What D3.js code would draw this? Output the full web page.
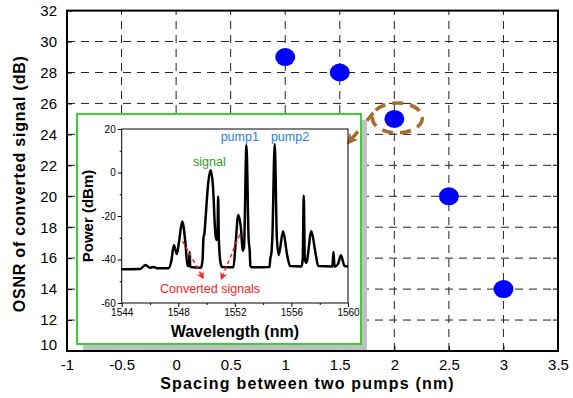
<!DOCTYPE html>
<html>
<head>
<meta charset="utf-8">
<script src="https://cdn.jsdelivr.net/npm/d3@7"></script>
<style>
  body { margin: 0; background: #fff; }
  svg { display: block; font-family: Arial, "Liberation Sans", sans-serif; }
</style>
</head>
<body>
<div id="chart"></div>
<script>
// main chart data
const spacing = [1, 1.5, 2, 2.5, 3];
const osnr = [29, 28, 25, 20, 14];
const xTicks = [-1, -0.5, 0, 0.5, 1, 1.5, 2, 2.5, 3, 3.5];
const yTicks = [10, 12, 14, 16, 18, 20, 22, 24, 26, 28, 30, 32];

// inset spectrum
const wavelength = [1544, 1545.3, 1545.67, 1546.0, 1546.24, 1546.5, 1547.3, 1547.5, 1547.69, 1547.9,
  1548.05, 1548.28, 1548.5, 1548.65, 1548.75, 1548.8, 1548.85, 1549.6, 1549.72, 1549.78,
  1549.85, 1549.92, 1550.1, 1550.28, 1550.45, 1550.62, 1550.7, 1550.77, 1550.82, 1550.87,
  1551.0, 1551.1, 1551.9, 1552.05, 1552.24, 1552.45, 1552.55, 1552.65, 1552.82, 1552.97,
  1553.05, 1553.1, 1553.2, 1554.45, 1554.5, 1554.6, 1554.65, 1554.82, 1554.97, 1555.1,
  1555.41, 1555.7, 1555.9, 1556.7, 1556.8, 1556.87, 1556.95, 1557.05, 1557.41, 1557.7,
  1557.9, 1558.9, 1558.97, 1559.05, 1559.3, 1559.5, 1559.75, 1560];
const power = [-44.5, -44.4, -42.5, -43.8, -43.5, -44, -44, -41, -33.5, -37.5,
  -32, -22.5, -32, -43, -43, -36.5, -43.5, -43.8, -40, -30,
  -28, -22, -6, 1, -6, -28, -31, -30, -11, -31,
  -42, -43.5, -43.6, -33, -19.5, -27, -36, -34, 12.5, -30,
  -36, -43, -43.6, -43.5, -40, -36, -30, 13, -30, -38,
  -27, -38, -43, -43.2, -40, -10.6, -40, -41.5, -27, -37,
  -43, -43.2, -36.5, -43.3, -42, -38, -43, -43.2];
const wlTicks = [1544, 1548, 1552, 1556, 1560];
const pwTicks = [20, 0, -20, -40, -60];

const width = 573, height = 398;
const margin = { top: 10.6, right: 15, bottom: 47, left: 67 };
const hyphen = d => String(d);

const svg = d3.select('#chart').append('svg')
  .attr('width', width)
  .attr('height', height);
const defs = svg.append('defs');

const x = d3.scaleLinear().domain([-1, 3.5]).range([margin.left, width - margin.right]);
const y = d3.scaleLinear().domain([10, 32]).range([height - margin.bottom, margin.top]);

// grid
svg.append('g').selectAll('line')
  .data(yTicks.slice(1, -1))
  .join('line')
  .attr('x1', x(-1)).attr('x2', x(3.5))
  .attr('y1', d => y(d)).attr('y2', d => y(d))
  .attr('stroke', '#222').attr('stroke-width', 1)
  .attr('stroke-dasharray', '8,6');
svg.append('g').selectAll('line')
  .data(xTicks.slice(1, -1))
  .join('line')
  .attr('x1', d => x(d)).attr('x2', d => x(d))
  .attr('y1', y(10)).attr('y2', y(32))
  .attr('stroke', '#222').attr('stroke-width', 1)
  .attr('stroke-dasharray', '8,6');

// frame and axes
svg.append('rect')
  .attr('x', x(-1)).attr('y', y(32))
  .attr('width', x(3.5) - x(-1)).attr('height', y(10) - y(32))
  .attr('fill', 'none').attr('stroke', '#000').attr('stroke-width', 2);

const xAxis = svg.append('g')
  .attr('transform', `translate(0,${y(10)})`)
  .call(d3.axisBottom(x).tickValues(xTicks).tickSize(-5).tickPadding(8).tickFormat(hyphen));
xAxis.select('.domain').remove();
xAxis.selectAll('text').attr('font-size', 15).attr('fill', '#000')
  .attr('font-family', 'Arial, "Liberation Sans", sans-serif');

const yAxis = svg.append('g')
  .attr('transform', `translate(${x(-1)},0)`)
  .call(d3.axisLeft(y).tickValues(yTicks).tickSize(-5).tickPadding(10).tickFormat(hyphen));
yAxis.select('.domain').remove();
yAxis.selectAll('text').attr('font-size', 15).attr('fill', '#000')
  .attr('font-family', 'Arial, "Liberation Sans", sans-serif');
yAxis.selectAll('.tick').filter(d => d === 10).select('text').attr('dy', '-0.1em');

// right side ticks
svg.append('g').selectAll('line')
  .data(yTicks)
  .join('line')
  .attr('x1', x(3.5) - 5).attr('x2', x(3.5))
  .attr('y1', d => y(d)).attr('y2', d => y(d))
  .attr('stroke', '#000');

svg.append('text')
  .attr('x', (x(-1) + x(3.5)) / 2 - 5)
  .attr('y', 389)
  .attr('text-anchor', 'middle')
  .attr('font-size', 16).attr('font-weight', 700)
  .attr('letter-spacing', 1.2)
  .text('Spacing between two pumps (nm)');

svg.append('text')
  .attr('transform', `translate(25,${(y(10) + y(32)) / 2 + 3}) rotate(-90)`)
  .attr('text-anchor', 'middle')
  .attr('font-size', 16).attr('font-weight', 700)
  .attr('letter-spacing', 0.8)
  .text('OSNR of converted signal (dB)');

// data points
svg.append('g').selectAll('ellipse')
  .data(spacing)
  .join('ellipse')
  .attr('cx', d => x(d))
  .attr('cy', (d, i) => y(osnr[i]))
  .attr('rx', 10).attr('ry', 9)
  .attr('fill', '#0000ff');

// highlight ellipse
const brown = '#a86b2d';
const hx = x(2) + 3, hy = y(25) - 1;
svg.append('ellipse')
  .attr('cx', hx).attr('cy', hy)
  .attr('rx', 25).attr('ry', 15)
  .attr('fill', 'none').attr('stroke', brown)
  .attr('stroke-width', 3.5).attr('stroke-dasharray', '11,7');

// inset
const inset = { x: 77, y: 114, w: 284, h: 230 };
svg.append('rect')
  .attr('x', inset.x + 6).attr('y', inset.y + 6)
  .attr('width', inset.w).attr('height', inset.h)
  .attr('fill', '#c0c0c0');
svg.append('rect')
  .attr('x', inset.x).attr('y', inset.y)
  .attr('width', inset.w).attr('height', inset.h)
  .attr('fill', '#fff').attr('stroke', '#3ccf3c').attr('stroke-width', 2);

// arrow from the highlight to the inset
defs.append('marker')
  .attr('id', 'brownHead')
  .attr('viewBox', '0 0 10 10').attr('refX', 8).attr('refY', 5)
  .attr('markerWidth', 3.2).attr('markerHeight', 3.2)
  .attr('orient', 'auto')
  .append('path').attr('d', 'M0,0 L10,5 L0,10 L3,5 Z').attr('fill', brown);

svg.append('line')
  .attr('x1', hx - 24).attr('y1', hy - 5)
  .attr('x2', hx - 49).attr('y2', hy + 25)
  .attr('stroke', brown).attr('stroke-width', 3.5)
  .attr('stroke-dasharray', '10,14')
  .attr('marker-end', 'url(#brownHead)');

const ix = d3.scaleLinear().domain([1544, 1560]).range([121.7, 348]);
const iy = d3.scaleLinear().domain([-60, 20]).range([303, 129]);
const g = svg.append('g');

g.append('rect')
  .attr('x', ix(1544)).attr('y', iy(20))
  .attr('width', ix(1560) - ix(1544)).attr('height', iy(-60) - iy(20))
  .attr('fill', 'none').attr('stroke', '#000').attr('stroke-width', 1);

const ixAxis = g.append('g')
  .attr('transform', `translate(0,${iy(-60)})`)
  .call(d3.axisBottom(ix).tickValues(wlTicks).tickSize(4).tickPadding(2).tickFormat(d3.format('d')));
ixAxis.select('.domain').remove();
ixAxis.selectAll('text').attr('font-size', 10).attr('fill', '#000')
  .attr('font-family', 'Arial, "Liberation Sans", sans-serif');
g.append('g')
  .attr('transform', `translate(0,${iy(-60)})`)
  .call(d3.axisBottom(ix).tickValues([1546, 1550, 1554, 1558]).tickSize(2).tickFormat(''))
  .select('.domain').remove();

const iyAxis = g.append('g')
  .attr('transform', `translate(${ix(1544)},0)`)
  .call(d3.axisLeft(iy).tickValues(pwTicks).tickSize(4).tickPadding(2).tickFormat(hyphen));
iyAxis.select('.domain').remove();
iyAxis.selectAll('text').attr('font-size', 10).attr('fill', '#000')
  .attr('font-family', 'Arial, "Liberation Sans", sans-serif');
g.append('g')
  .attr('transform', `translate(${ix(1544)},0)`)
  .call(d3.axisLeft(iy).tickValues([10, -10, -30, -50]).tickSize(2).tickFormat(''))
  .select('.domain').remove();

const line = d3.line()
  .x((d, i) => ix(wavelength[i]))
  .y(d => iy(d))
  .curve(d3.curveMonotoneX);
g.append('path')
  .datum(power)
  .attr('d', line)
  .attr('fill', 'none').attr('stroke', '#000')
  .attr('stroke-width', 2.5).attr('stroke-linejoin', 'round');

g.append('text')
  .attr('transform', `translate(93,${(iy(20) + iy(-60)) / 2}) rotate(-90)`)
  .attr('text-anchor', 'middle')
  .attr('font-size', 15).attr('font-weight', 700)
  .text('Power (dBm)');
g.append('text')
  .attr('x', (ix(1544) + ix(1560)) / 2).attr('y', 337)
  .attr('text-anchor', 'middle')
  .attr('font-size', 16).attr('font-weight', 700)
  .text('Wavelength (nm)');

// annotations
g.append('text')
  .attr('x', ix(1550.2)).attr('y', iy(3.2))
  .attr('text-anchor', 'middle').attr('font-size', 12.5)
  .attr('fill', '#2e9a2e').text('signal');
g.append('text')
  .attr('x', ix(1552.35)).attr('y', iy(14.5))
  .attr('text-anchor', 'middle').attr('font-size', 12.5)
  .attr('fill', '#2b7de9').text('pump1');
g.append('text')
  .attr('x', ix(1555.9)).attr('y', iy(14.5))
  .attr('text-anchor', 'middle').attr('font-size', 12.5)
  .attr('fill', '#2b7de9').text('pump2');
g.append('text')
  .attr('x', ix(1550.25)).attr('y', iy(-55.5))
  .attr('text-anchor', 'middle').attr('font-size', 12.5)
  .attr('fill', '#ff2020').text('Converted signals');

defs.append('marker')
  .attr('id', 'redHead')
  .attr('viewBox', '0 0 10 10').attr('refX', 8).attr('refY', 5)
  .attr('markerWidth', 5).attr('markerHeight', 5)
  .attr('orient', 'auto')
  .append('path').attr('d', 'M0,0 L10,5 L0,10 L3,5 Z').attr('fill', '#ff2020');

const arrowFrom = [[1548.3, -31.5], [1552.35, -28.5]];
const arrowTo = [[1549.75, -48.5], [1551.05, -48.8]];
g.append('g').selectAll('line')
  .data(arrowFrom)
  .join('line')
  .attr('x1', d => ix(d[0])).attr('y1', d => iy(d[1]))
  .attr('x2', (d, i) => ix(arrowTo[i][0])).attr('y2', (d, i) => iy(arrowTo[i][1]))
  .attr('stroke', '#ff2020').attr('stroke-width', 1.5)
  .attr('stroke-dasharray', '4,3')
  .attr('marker-end', 'url(#redHead)');
</script>
</body>
</html>
